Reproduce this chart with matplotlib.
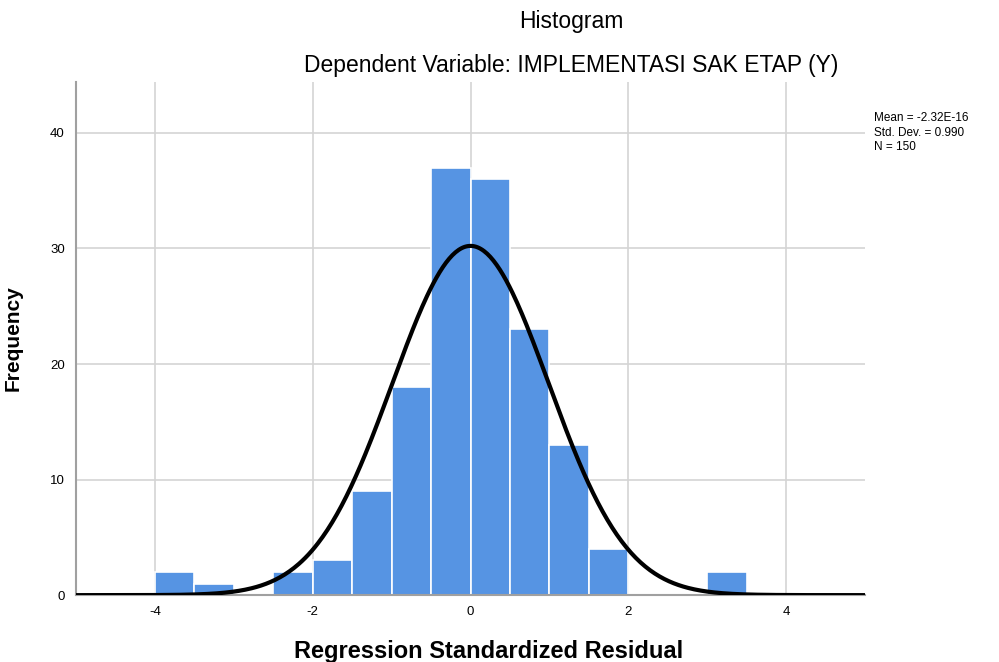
import numpy as np
import matplotlib.pyplot as plt

plt.rcParams['font.family'] = ['Liberation Sans', 'DejaVu Sans']
plt.rcParams['axes.unicode_minus'] = False

# Histogram bins (width 0.5) and counts
bin_left = [-4.0, -3.5, -3.0, -2.5, -2.0, -1.5, -1.0, -0.5, 0.0, 0.5, 1.0, 1.5, 2.0, 2.5, 3.0]
counts = [2, 1, 0, 2, 3, 9, 18, 37, 36, 23, 13, 4, 0, 0, 2]
bin_width = 0.5

mean = -2.32e-16
std = 0.990
n = 150

fig = plt.figure(figsize=(9.99, 6.62), dpi=100)
ax = fig.add_axes([0.076, 0.101, 0.79, 0.775])

ax.bar(bin_left, counts, width=bin_width, align='edge',
       color='#5694e3', edgecolor='white', linewidth=1.2, zorder=2)

# Normal curve scaled to counts
x = np.linspace(-5, 5, 500)
y = n * bin_width / (std * np.sqrt(2 * np.pi)) * np.exp(-0.5 * ((x - mean) / std) ** 2)
ax.plot(x, y, color='black', linewidth=3, zorder=3)

ax.set_xlim(-5, 5)
ax.set_ylim(0, 44.4)
ax.set_xticks([-4, -2, 0, 2, 4])
ax.set_yticks([0, 10, 20, 30, 40])
ax.grid(True, color='#d4d4d4', linewidth=1.2, zorder=0)
ax.set_axisbelow(True)
ax.tick_params(length=0, labelsize=9.5, pad=8)

for side in ['top', 'right']:
    ax.spines[side].set_visible(False)
ax.spines['left'].set_color('#a0a0a0')
ax.spines['left'].set_linewidth(1.5)
ax.spines['bottom'].set_color('#a0a0a0')
ax.spines['bottom'].set_linewidth(1.5)

ax.set_xlabel('Regression Standardized Residual', fontsize=17, fontweight='bold')
ax.xaxis.set_label_coords(0.523, -0.087)
ax.set_ylabel('Frequency', fontsize=15, fontweight='bold', labelpad=20)

fig.text(0.572, 0.968, 'Histogram', fontsize=16.5, ha='center', va='center')
fig.text(0.572, 0.901, 'Dependent Variable: IMPLEMENTASI SAK ETAP (Y)', fontsize=16.5,
         ha='center', va='center')

fig.text(0.875, 0.831, 'Mean = -2.32E-16\nStd. Dev. = 0.990\nN = 150',
         fontsize=8.5, ha='left', va='top', linespacing=1.3)

fig.savefig('out.png', dpi=100)
